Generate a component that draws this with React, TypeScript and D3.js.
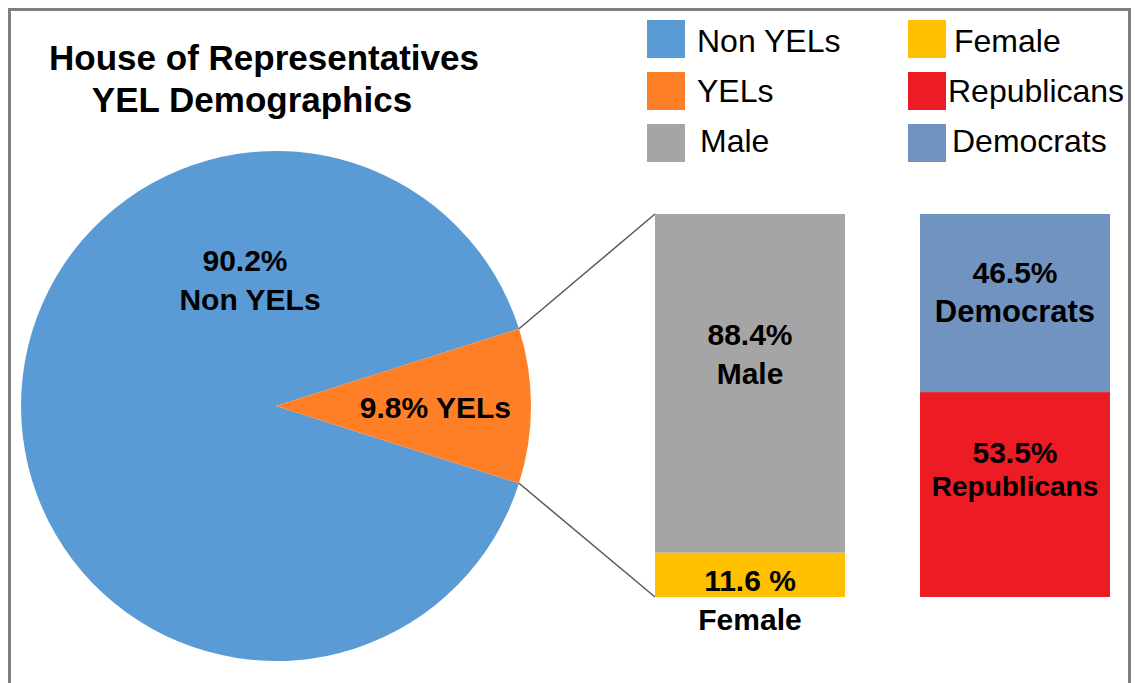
import React from 'react';
import * as d3 from 'd3';

// pie: share of house members
const pieLabels = ['Non YELs', 'YELs'];
const pieValues = [90.2, 9.8];
const pieColors = ['#5B9BD5', '#FF7F27'];

// breakdown of YELs (bottom segment first)
const genderLabels = ['Female', 'Male'];
const genderValues = [11.6, 88.4];
const genderColors = ['#FFC000', '#A5A5A5'];

const partyLabels = ['Republicans', 'Democrats'];
const partyValues = [53.5, 46.5];
const partyColors = ['#ED1C24', '#7093C0'];

const barGroups = ['Gender', 'Party'];

const legendCol1 = ['Non YELs', 'YELs', 'Male'];
const legendCol1Colors = ['#5B9BD5', '#FF7F27', '#A5A5A5'];
const legendCol2 = ['Female', 'Republicans', 'Democrats'];
const legendCol2Colors = ['#FFC000', '#ED1C24', '#7093C0'];

const W = 1135;
const H = 683;
const FONT = '"Liberation Sans", Arial, sans-serif';

const App = () => {
  const cx = 276;
  const cy = 406;
  const r = 255;

  // orange slice centred on 3 o'clock
  const half = (pieValues[1] / 100) * Math.PI;
  const pie = d3.pie<number>().sort(null)
    .startAngle(Math.PI / 2 + half)
    .endAngle(Math.PI / 2 + half + 2 * Math.PI);
  const arcs = pie(pieValues);
  const arc = d3.arc<d3.PieArcDatum<number>>().innerRadius(0).outerRadius(r);

  const x = d3.scaleBand<string>()
    .domain(barGroups)
    .range([655, 1110])
    .paddingInner(0.283)
    .paddingOuter(0);
  const y = d3.scaleLinear().domain([0, 100]).range([597, 214]);

  const stackSegs = (vals: number[]) => {
    let acc = 0;
    return vals.map(v => {
      const s = { y0: acc, y1: acc + v };
      acc += v;
      return s;
    });
  };
  const gSegs = stackSegs(genderValues);
  const pSegs = stackSegs(partyValues);

  const yel = arcs[1];
  const pt = (a: number) => [cx + r * Math.sin(a), cy - r * Math.cos(a)];
  const [ux, uy] = pt(yel.startAngle);
  const [lx, ly] = pt(yel.endAngle);
  const bx = x('Gender')!;
  const bw = x.bandwidth();

  const yelMid = (yel.startAngle + yel.endAngle) / 2;
  const yelLab = [cx + r * 0.625 * Math.sin(yelMid), cy - r * 0.625 * Math.cos(yelMid)];

  const lab = { fontFamily: FONT, fontWeight: 700, fontSize: 30, fill: '#000' } as const;
  const leg = { fontFamily: FONT, fontSize: 32, fill: '#000' } as const;

  const maleMid = (y(gSegs[1].y0) + y(gSegs[1].y1)) / 2;
  const demMid = (y(pSegs[1].y0) + y(pSegs[1].y1)) / 2;
  const repMid = (y(pSegs[0].y0) + y(pSegs[0].y1)) / 2;
  const gc = bx + bw / 2;
  const pc = x('Party')! + x.bandwidth() / 2;

  return (
    <svg width={W} height={H} style={{ position: 'absolute', left: 0, top: 0, background: '#fff' }}>
      <rect x={9.5} y={9.5} width={1120} height={700} fill="#fff" stroke="#7F7F7F" strokeWidth={3} />

      <text x={264} y={70} textAnchor="middle" style={{ ...lab, fontSize: 35 }}>House of Representatives</text>
      <text x={252} y={112} textAnchor="middle" style={{ ...lab, fontSize: 35 }}>YEL Demographics</text>

      {arcs.map((a, i) => (
        <path key={pieLabels[i]} d={arc(a)!} transform={`translate(${cx},${cy})`} fill={pieColors[i]} />
      ))}
      <text x={cx - 31} y={cy - 135} textAnchor="middle" style={lab}>{pieValues[0]}%</text>
      <text x={cx - 26} y={cy - 96} textAnchor="middle" style={lab}>{pieLabels[0]}</text>
      <text x={yelLab[0]} y={yelLab[1] + 12} textAnchor="middle" style={lab}>{pieValues[1]}% {pieLabels[1]}</text>

      <line x1={ux} y1={uy} x2={bx} y2={y(100)} stroke="#595959" strokeWidth={1.5} />
      <line x1={lx} y1={ly} x2={bx} y2={y(0)} stroke="#595959" strokeWidth={1.5} />

      {gSegs.map((s, i) => (
        <rect key={genderLabels[i]} x={bx} y={y(s.y1)} width={bw} height={y(s.y0) - y(s.y1)} fill={genderColors[i]} />
      ))}
      {pSegs.map((s, i) => (
        <rect key={partyLabels[i]} x={x('Party')!} y={y(s.y1)} width={x.bandwidth()} height={y(s.y0) - y(s.y1)} fill={partyColors[i]} />
      ))}

      <text x={gc} y={maleMid - 38} textAnchor="middle" style={lab}>{genderValues[1]}%</text>
      <text x={gc} y={maleMid + 1} textAnchor="middle" style={lab}>{genderLabels[1]}</text>
      <text x={gc} y={y(0) - 6} textAnchor="middle" style={lab}>{genderValues[0]} %</text>
      <text x={gc} y={y(0) + 33} textAnchor="middle" style={lab}>{genderLabels[0]}</text>

      <text x={pc} y={demMid - 20} textAnchor="middle" style={lab}>{partyValues[1]}%</text>
      <text x={pc} y={demMid + 19} textAnchor="middle" style={{ ...lab, fontSize: 31 }}>{partyLabels[1]}</text>
      <text x={pc} y={repMid - 32} textAnchor="middle" style={lab}>{partyValues[0]}%</text>
      <text x={pc} y={repMid + 1} textAnchor="middle" style={{ ...lab, fontSize: 28 }}>{partyLabels[0]}</text>

      {legendCol1.map((t, i) => (
        <g key={t} transform={`translate(647,${20 + i * 52})`}>
          <rect width={38} height={38} fill={legendCol1Colors[i]} />
          <text x={i === 2 ? 53 : 50} y={32 - i * 2} style={leg}>{t}</text>
        </g>
      ))}
      {legendCol2.map((t, i) => (
        <g key={t} transform={`translate(908,${20 + i * 52})`}>
          <rect width={38} height={38} fill={legendCol2Colors[i]} />
          <text x={i === 1 ? 40 : i === 2 ? 44 : 46} y={32 - i * 2} style={leg}>{t}</text>
        </g>
      ))}
    </svg>
  );
};

export default App;
